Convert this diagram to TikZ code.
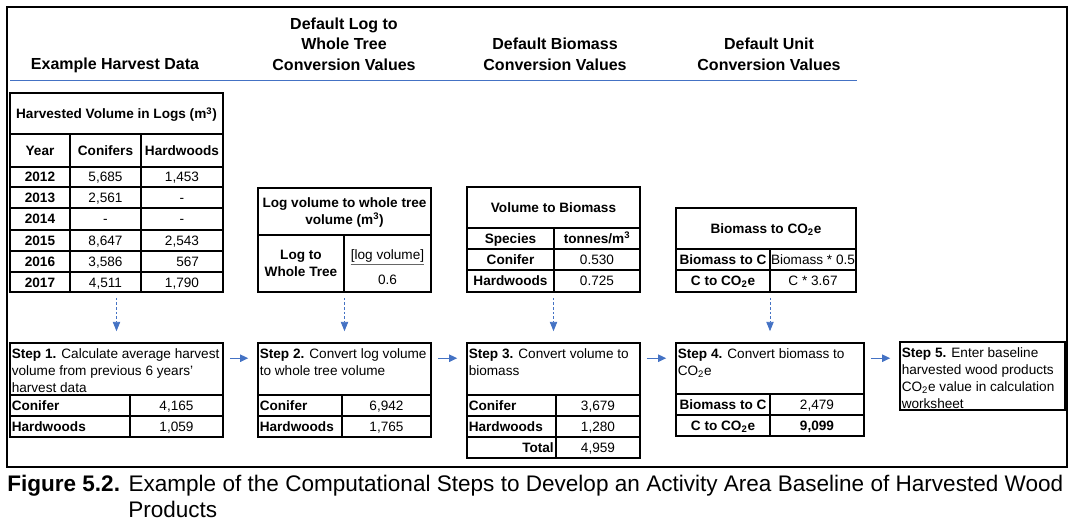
\documentclass[tikz,border=0pt]{standalone}
\usepackage{fontspec}
\setmainfont{Liberation Sans}
\usetikzlibrary{positioning,fit,arrows.meta}
\definecolor{flowblue}{RGB}{68,114,196}

\begin{document}
\begin{tikzpicture} [x=0.75pt, y=-0.75pt,
		every node/.style={inner sep=0pt, font=\fontsize{10.2}{12.75}\selectfont},
		tab/.style={draw=black, line width=1.2pt},
		rule/.style={line width=1.2pt},
		cell/.style={text height=7.3pt, text depth=0pt},
		lbl/.style={font=\fontsize{10.2}{12.75}\selectfont\bfseries},
		head/.style={font=\fontsize{12}{15.4}\selectfont\bfseries, align=center},
		steptext/.style={anchor=north west, align=left},
		dasharrow/.style={draw=flowblue, line width=0.6pt, dash pattern=on 2pt off 1.5pt,
			-{Triangle[length=7pt,width=5.5pt]}, shorten <=3.75pt, shorten >=8.25pt},
		flowarrow/.style={draw=flowblue, line width=0.75pt,
			-{Triangle[length=6pt,width=5.5pt]}, shorten <=4.5pt, shorten >=6.75pt}
	]
	\path[use as bounding box] (0,0) rectangle (1077,529);
	\node (frame) [draw=black, line width=1.4pt, fit={(7,7) (1067,467)}] {};

	\node (hdata) [head] at (115,65) {Example Harvest Data};
	\node (hlog) [head] at (344,44) {Default Log to\\Whole Tree\\Conversion Values};
	\node (hbio) [head] at (555,54.5) {Default Biomass\\Conversion Values};
	\node (hunit) [head] at (769,54.5) {Default Unit\\Conversion Values};
	\draw[flowblue, line width=0.75pt] (10,80) -- (857,80);

	\node (harv) [tab, fit={(10,93) (223,292)}] {};
	\foreach \y in {134,167,187,208,230,251,272}
		\draw[rule] (10,\y) -- (223,\y);
	\draw[rule] (70,134) -- (70,292) (141,134) -- (141,292);
	\node (harvtitle) [lbl, cell] at (116.5,114) {Harvested Volume in Logs (m\textsuperscript{3})};
	\node [lbl, cell] at (40,151) {Year};
	\node [lbl, cell] at (105.5,151) {Conifers};
	\node [lbl, cell] at (182,151) {Hardwoods};
	\foreach \y/\yr/\c/\h in {177/2012/{5,685}/{1,453}, 197.5/2013/{2,561}/-, 219/2014/-/-,
			240.5/2015/{8,647}/{2,543}, 261.5/2016/{3,586}/{\phantom{1,}567}, 282.5/2017/{4,511}/{1,790}} {
		\node [lbl, cell] at (40,\y) {\yr};
		\node [cell] at (105.5,\y) {\c};
		\node [cell] at (182,\y) {\h};
	}

	\node (logtab) [tab, fit={(258,188) (431,292)}] {};
	\draw[rule] (258,235) -- (431,235) (344,235) -- (344,292);
	\node [lbl, align=center] at (344.5,212) {Log volume to whole tree\\volume (m\textsuperscript{3})};
	\node [lbl, align=center] at (301,263.5) {Log to\\Whole Tree};
	\node (logvol) [cell] at (387.5,255) {[log volume]};
	\draw[line width=0.5pt, black!60] ([yshift=-3.5pt]logvol.south west) -- ([yshift=-3.5pt]logvol.south east);
	\node [cell] at (387.5,280) {0.6};

	\node (biotab) [tab, fit={(467,187) (640,292)}] {};
	\foreach \y in {228,249,270}
		\draw[rule] (467,\y) -- (640,\y);
	\draw[rule] (554,228) -- (554,292);
	\node [lbl, cell] at (553.5,207.5) {Volume to Biomass};
	\node [lbl, cell] at (510.5,238.5) {Species};
	\node [lbl, cell] at (597,238.5) {tonnes/m\textsuperscript{3}};
	\node [lbl, cell] at (510.5,259.5) {Conifer};
	\node [cell] at (597,259.5) {0.530};
	\node [lbl, cell] at (510.5,280.5) {Hardwoods};
	\node [cell] at (597,280.5) {0.725};

	\node (co2tab) [tab, fit={(676,208) (856,292)}] {};
	\draw[rule] (676,249) -- (856,249) (676,270) -- (856,270) (770,249) -- (770,292);
	\node [lbl, cell] at (766,229) {Biomass to CO\textsubscript{2}e};
	\node [lbl, cell] at (723,259.5) {Biomass to C};
	\node [cell] at (813,259.5) {Biomass * 0.5};
	\node [lbl, cell] at (723,280.5) {C to CO\textsubscript{2}e};
	\node [cell] at (813,280.5) {C * 3.67};

	\node (step1) [tab, fit={(10,343) (223,437)}] {};
	\draw[rule] (10,395) -- (223,395) (10,416) -- (223,416) (130,395) -- (130,437);
	\node [steptext] at (11.5,348) {\textbf{Step 1.} Calculate average harvest\\volume from previous 6 years'\\harvest data};
	\node [lbl, cell, anchor=west] at (11.5,405.5) {Conifer};
	\node [cell] at (176.5,405.5) {4,165};
	\node [lbl, cell, anchor=west] at (11.5,426.5) {Hardwoods};
	\node [cell] at (176.5,426.5) {1,059};

	\node (step2) [tab, fit={(258,343) (431,437)}] {};
	\draw[rule] (258,395) -- (431,395) (258,416) -- (431,416) (342,395) -- (342,437);
	\node [steptext] at (259.5,348) {\textbf{Step 2.} Convert log volume\\to whole tree volume};
	\node [lbl, cell, anchor=west] at (259.5,405.5) {Conifer};
	\node [cell] at (386.5,405.5) {6,942};
	\node [lbl, cell, anchor=west] at (259.5,426.5) {Hardwoods};
	\node [cell] at (386.5,426.5) {1,765};

	\node (step3) [tab, fit={(467,343) (640,458)}] {};
	\foreach \y in {395,416,437}
		\draw[rule] (467,\y) -- (640,\y);
	\draw[rule] (556,395) -- (556,458);
	\node [steptext] at (468.5,348) {\textbf{Step 3.} Convert volume to\\biomass};
	\node [lbl, cell, anchor=west] at (468.5,405.5) {Conifer};
	\node [cell] at (598,405.5) {3,679};
	\node [lbl, cell, anchor=west] at (468.5,426.5) {Hardwoods};
	\node [cell] at (598,426.5) {1,280};
	\node [lbl, cell, anchor=east] at (554,447.5) {Total};
	\node [cell] at (598,447.5) {4,959};

	\node (step4) [tab, fit={(676,343) (864,436)}] {};
	\draw[rule] (676,394) -- (864,394) (676,415) -- (864,415) (770,394) -- (770,436);
	\node [steptext] at (677.5,348) {\textbf{Step 4.} Convert biomass to\\CO\textsubscript{2}e};
	\node [lbl, cell] at (723,404.5) {Biomass to C};
	\node [cell] at (817,404.5) {2,479};
	\node [lbl, cell] at (723,425.5) {C to CO\textsubscript{2}e};
	\node [lbl, cell] at (817,425.5) {9,099};

	\node (step5) [tab, fit={(900,342) (1065,410)}] {};
	\node [steptext] at (901.5,347.5) {\textbf{Step 5.} Enter baseline\\harvested wood products\\CO\textsubscript{2}e value in calculation\\worksheet};

	\draw[dasharrow] (step1.north |- harv.south) -- (step1.north);
	\draw[dasharrow] (step2.north |- logtab.south) -- (step2.north);
	\draw[dasharrow] (step3.north |- biotab.south) -- (step3.north);
	\draw[dasharrow] (step4.north |- co2tab.south) -- (step4.north);

	\coordinate (a1) at ([yshift=-12pt]step1.north east);
	\coordinate (a2) at ([yshift=-12pt]step2.north east);
	\coordinate (a3) at ([yshift=-12pt]step3.north east);
	\coordinate (a4) at ([yshift=-12pt]step4.north east);
	\draw[flowarrow] (a1) -- (a1 -| step2.west);
	\draw[flowarrow] (a2) -- (a2 -| step3.west);
	\draw[flowarrow] (a3) -- (a3 -| step4.west);
	\draw[flowarrow] (a4) -- (a4 -| step5.west);

	\node (caption) [anchor=north west, align=left, font=\fontsize{16.9}{19.5}\selectfont] at (7,474.5)
		{\makebox[792pt][s]{\textbf{Figure 5.2.} Example of the Computational Steps to Develop an Activity Area Baseline of Harvested Wood}\\\hphantom{\textbf{Figure 5.2.} }Products};

\end{tikzpicture}
\end{document}
